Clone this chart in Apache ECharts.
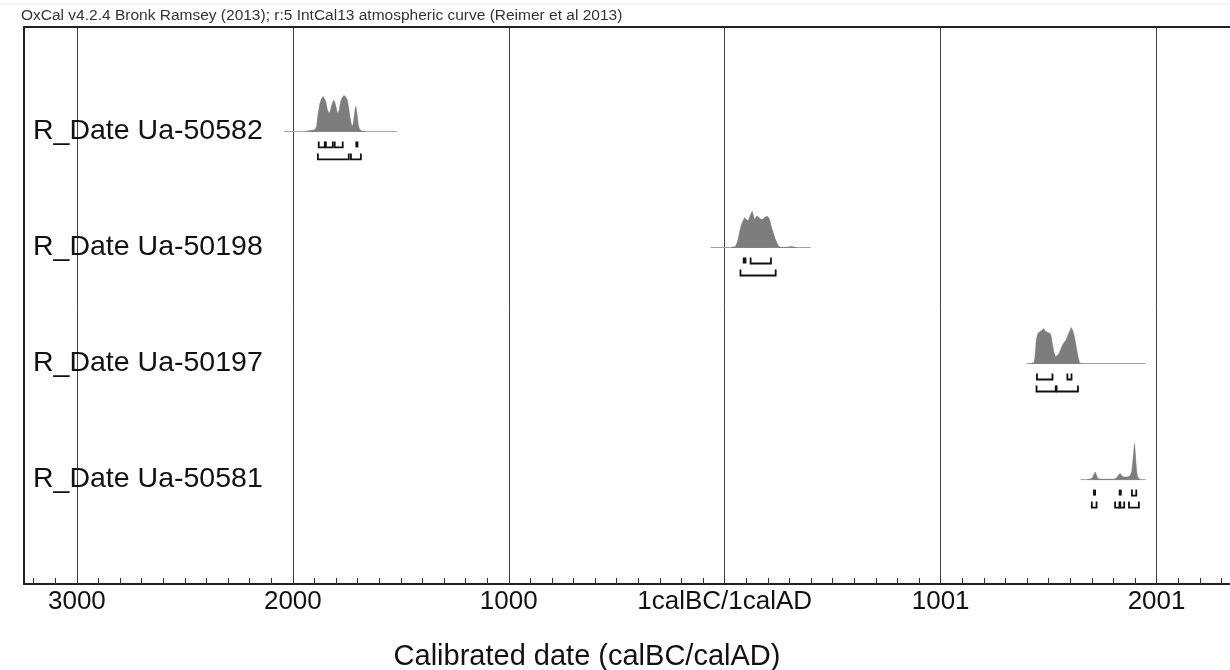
<!DOCTYPE html>
<html><head><meta charset="utf-8">
<script src="https://cdn.jsdelivr.net/npm/echarts@6/dist/echarts.min.js"></script>
<style>html,body{margin:0;padding:0;background:#fff}#c{width:1230px;height:670px}</style>
</head><body><div id="c"></div>
<script>
// ---- data ----
const headerText = 'OxCal v4.2.4 Bronk Ramsey (2013); r:5 IntCal13 atmospheric curve (Reimer et al 2013)';
const axisTitle = 'Calibrated date (calBC/calAD)';
const sampleLabels = ['R_Date Ua-50582', 'R_Date Ua-50198', 'R_Date Ua-50197', 'R_Date Ua-50581'];
const majorTickValues = [-3000, -2000, -1000, 0, 1000, 2000];
const majorTickLabels = ['3000', '2000', '1000', '1calBC/1calAD', '1001', '2001'];
const axisMin = -3245, axisMax = 2340;

// relative probability (peak = 1) against calendar year (negative = BC)
const distUa50582 = [[-1940,0],[-1931,0.01],[-1910,0.03],[-1898,0.05],[-1890,0.14],[-1883,0.49],[-1875,0.77],[-1868,0.9],[-1860,0.97],[-1853,0.9],[-1847,0.82],[-1840,0.6],[-1832,0.49],[-1826,0.58],[-1821,0.71],[-1815,0.82],[-1810,0.87],[-1805,0.79],[-1800,0.68],[-1795,0.55],[-1790,0.5],[-1785,0.6],[-1779,0.82],[-1772,0.93],[-1764,1.0],[-1757,0.97],[-1749,0.9],[-1742,0.68],[-1736,0.41],[-1730,0.22],[-1725,0.14],[-1720,0.22],[-1716,0.41],[-1712,0.6],[-1708,0.7],[-1703,0.49],[-1698,0.23],[-1694,0.11],[-1690,0.05],[-1680,0.01],[-1667,0]];
const distUa50198 = [[30,0],[40,0.01],[50,0.03],[60,0.17],[70,0.46],[77,0.63],[85,0.74],[92,0.83],[100,0.77],[108,0.74],[113,0.8],[118,0.89],[124,0.97],[128,1.0],[134,0.86],[139,0.77],[146,0.86],[154,0.86],[163,0.8],[173,0.77],[184,0.83],[196,0.87],[203,0.83],[208,0.77],[216,0.57],[224,0.43],[232,0.26],[239,0.17],[247,0.06],[255,0.01],[265,0],[295,0.01],[305,0.03],[312,0.03],[320,0.01],[330,0]];
const distUa50197 = [[1420,0],[1432,0.03],[1436,0.14],[1440,0.42],[1443,0.67],[1450,0.83],[1458,0.88],[1468,0.92],[1477,0.97],[1487,0.89],[1497,0.86],[1508,0.83],[1513,0.72],[1517,0.56],[1524,0.33],[1532,0.19],[1540,0.22],[1548,0.28],[1556,0.39],[1563,0.5],[1574,0.6],[1582,0.67],[1589,0.78],[1597,0.89],[1605,1.0],[1610,0.94],[1616,0.83],[1622,0.67],[1628,0.46],[1636,0.19],[1644,0.01],[1655,0]];
const distUa50581 = [[1680,0],[1700,0.03],[1705,0.08],[1712,0.17],[1716,0.21],[1722,0.11],[1728,0.03],[1740,0.01],[1800,0.01],[1812,0.03],[1818,0.08],[1826,0.14],[1832,0.17],[1838,0.11],[1844,0.08],[1850,0.07],[1860,0.07],[1870,0.08],[1878,0.11],[1885,0.22],[1890,0.5],[1895,0.83],[1898,1.0],[1901,0.78],[1904,0.5],[1908,0.22],[1912,0.08],[1918,0.03],[1925,0]];

// extent of each thin baseline
const baselineUa50582 = [-2042, -1519];
const baselineUa50198 = [-65, 398];
const baselineUa50197 = [1398, 1949];
const baselineUa50581 = [1648, 1949];

// 68.2% and 95.4% ranges
const range68Ua50582 = [[-1880,-1852],[-1847,-1815],[-1806,-1769],[-1708,-1701]];
const range95Ua50582 = [[-1884,-1741],[-1731,-1685]];
const range68Ua50198 = [[86,98],[120,214]];
const range95Ua50198 = [[73,236]];
const range68Ua50197 = [[1446,1518],[1587,1606]];
const range95Ua50197 = [[1444,1533],[1537,1636]];
const range68Ua50581 = [[1708,1714],[1827,1832],[1886,1906]];
const range95Ua50581 = [[1700,1722],[1808,1828],[1832,1850],[1872,1918]];

const dists = [distUa50582, distUa50198, distUa50197, distUa50581];
const baselines = [baselineUa50582, baselineUa50198, baselineUa50197, baselineUa50581];
const ranges68 = [range68Ua50582, range68Ua50198, range68Ua50197, range68Ua50581];
const ranges95 = [range95Ua50582, range95Ua50198, range95Ua50197, range95Ua50581];

// ---- chart ----
const FONT = "'Liberation Sans', Arial, sans-serif";
const peakHeight = 0.31; // in row units
const minorTicks = [];
for (let v = -3200; v <= 2300; v += 100) minorTicks.push(v);

function bracket(api, range, base, top, bottom) {
  const a = api.coord([range[0], base]);
  const b = api.coord([range[1], base]);
  const y0 = a[1] + top, y1 = a[1] + bottom;
  if (b[0] - a[0] < 3.5) {
    return {type: 'rect', shape: {x: a[0] - 0.5, y: y0, width: Math.max(b[0] - a[0], 2) + 1, height: y1 - y0},
      style: {fill: '#111'}};
  }
  return {type: 'polyline', shape: {points: [[a[0], y0], [a[0], y1], [b[0], y1], [b[0], y0]]},
    style: {stroke: '#111', lineWidth: 1.8, fill: null}};
}

function renderItem(params, api) {
  const i = api.value(2);
  const base = api.value(1);
  const children = [];
  const l0 = api.coord([baselines[i][0], base]);
  const l1 = api.coord([baselines[i][1], base]);
  children.push({type: 'line', shape: {x1: l0[0], y1: l0[1], x2: l1[0], y2: l1[1]},
    style: {stroke: '#a0a0a0', lineWidth: 1}});
  const pts = dists[i].map(d => api.coord([d[0], base + d[1] * peakHeight]));
  children.push({type: 'polygon', shape: {points: pts}, style: {fill: '#7d7d7d', stroke: '#777', lineWidth: 0.5}});
  ranges68[i].forEach(r => children.push(bracket(api, r, base, 10, 16)));
  ranges95[i].forEach(r => children.push(bracket(api, r, base, 22, 28)));
  const lp = api.coord([axisMin, base]);
  children.push({type: 'text', x: lp[0] + 9, y: lp[1],
    style: {text: sampleLabels[i], fill: '#111', font: '28.5px ' + FONT, textVerticalAlign: 'middle', textAlign: 'left'}});
  return {type: 'group', children};
}

const chart = echarts.init(document.getElementById('c'));
chart.setOption({
  animation: false,
  backgroundColor: '#fff',
  grid: {left: 24, right: 0, top: 27, bottom: 86, containLabel: false},
  xAxis: [
    {type: 'value', min: axisMin, max: axisMax, position: 'bottom',
      axisLine: {show: true, onZero: false, lineStyle: {color: '#222', width: 2}},
      axisTick: {show: true, inside: true, length: 1, customValues: majorTickValues, lineStyle: {color: '#333'}},
      axisLabel: {show: true, customValues: majorTickValues, margin: 5, color: '#111', fontSize: 26, fontFamily: FONT,
        formatter: v => majorTickLabels[majorTickValues.indexOf(v)]},
      splitLine: {show: true, lineStyle: {color: '#444', width: 1}}},
    {type: 'value', min: axisMin, max: axisMax, position: 'bottom',
      axisLine: {show: false},
      axisTick: {show: true, inside: true, length: 6, customValues: minorTicks, lineStyle: {color: '#333', width: 1}},
      axisLabel: {show: false}, splitLine: {show: false}},
    {type: 'value', min: axisMin, max: axisMax, position: 'top',
      axisLine: {show: true, onZero: false, lineStyle: {color: '#222', width: 2}},
      axisTick: {show: false}, axisLabel: {show: false}, splitLine: {show: false}}
  ],
  yAxis: {type: 'value', min: 0.1, max: 4.9, position: 'left',
    axisLine: {show: true, onZero: false, lineStyle: {color: '#222', width: 2}},
    axisTick: {show: false}, axisLabel: {show: false}, splitLine: {show: false}},
  series: [{
    type: 'custom', xAxisIndex: 0, yAxisIndex: 0,
    renderItem: renderItem,
    encode: {x: 0, y: 1},
    data: sampleLabels.map((s, i) => [baselines[i][0], 4 - i, i]),
    z: 5
  }],
  graphic: [
    {type: 'line', shape: {x1: 0, y1: 4, x2: 1230, y2: 4}, style: {stroke: '#e6ecf5', lineWidth: 1}},
    {type: 'text', left: 21, top: 8, style: {text: headerText, fill: '#333', font: '15.5px ' + FONT}},
    {type: 'text', x: 587, y: 657, style: {text: axisTitle, fill: '#111', font: '29px ' + FONT, textAlign: 'center', textVerticalAlign: 'middle'}}
  ]
});
</script></body></html>
